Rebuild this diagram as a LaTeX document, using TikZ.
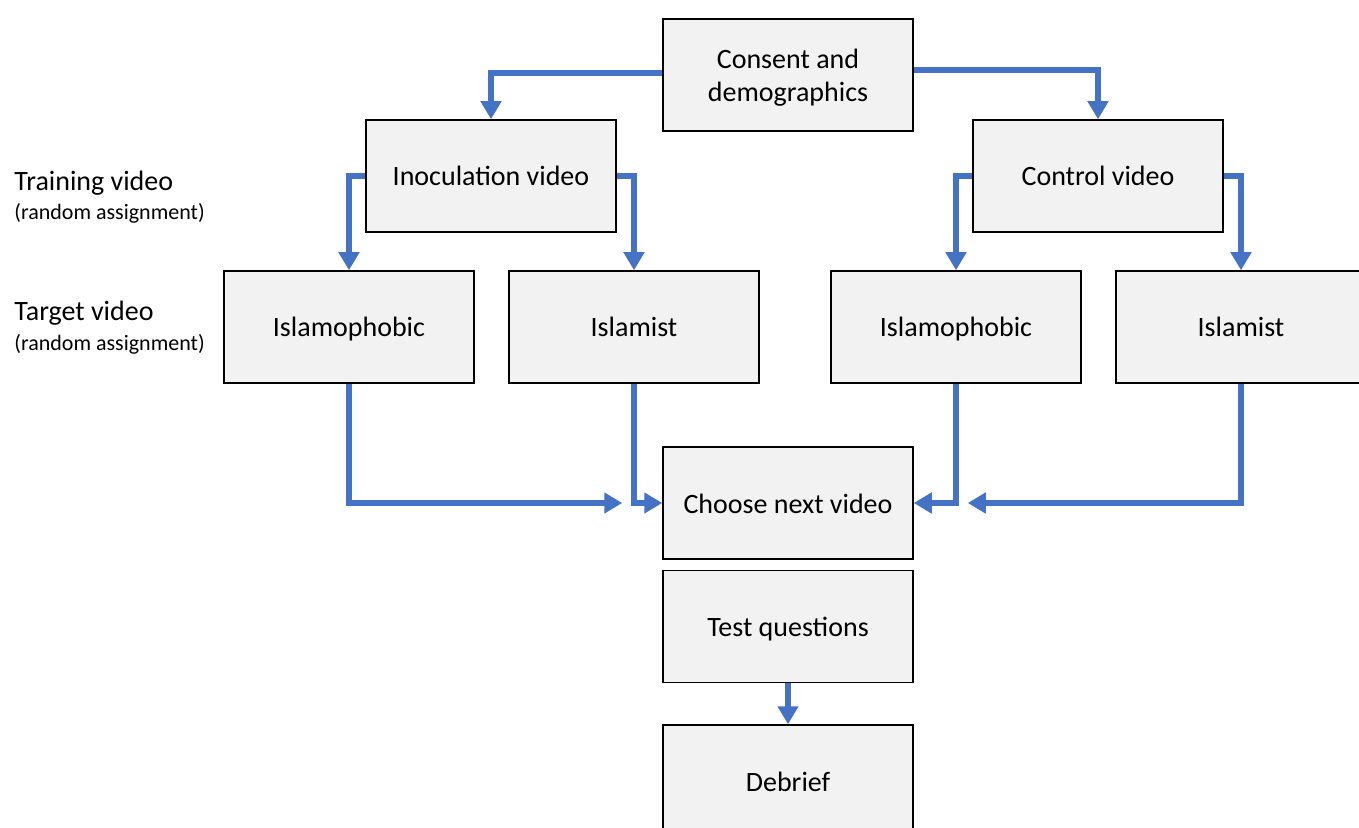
\documentclass[tikz,border=0pt]{standalone}
\usepackage{fontspec}
\setmainfont{Carlito}
\usepackage{tikz}
\usetikzlibrary{arrows.meta,positioning,calc}
\usepackage{xcolor}
\definecolor{boxfill}{RGB}{242,242,242}
\definecolor{flowblue}{RGB}{68,114,196}

\begin{document}
\begin{tikzpicture}[x=0.5pt,y=-0.5pt,
  every node/.style={font=\fontsize{14}{16.5}\selectfont},
  box/.style={draw=black,fill=boxfill,line width=0.75pt,minimum width=125pt,
    minimum height=56pt,align=center,inner sep=0pt,text height=12pt,text depth=2pt},
  lbl/.style={anchor=west,inner sep=0pt},
  sublbl/.style={anchor=west,inner sep=0pt,font=\fontsize{11}{13}\selectfont},
  flow/.style={flowblue,line width=2.6pt,-{Triangle[width=10pt,length=9pt]}}]
\useasboundingbox (0,0) rectangle (1359,828);
% side labels
\node[lbl] (trainlbl) at (14,183) {Training video};
\node[sublbl] (trainsub) at (14,213) {(random assignment)};
\node[lbl] (targetlbl) at (14,313) {Target video};
\node[sublbl] (targetsub) at (14,344) {(random assignment)};
% boxes
\node[box,text height=,text depth=0pt] (consent) at (788,75) {Consent and\\demographics};
\node[box] (inoc) at (491,176) {Inoculation video};
\node[box] (ctrl) at (1098,176) {Control video};
\node[box] (phobL) at (349,327) {Islamophobic};
\node[box] (istL) at (634,327) {Islamist};
\node[box] (phobR) at (956,327) {Islamophobic};
\node[box] (istR) at (1241,327) {Islamist};
\node[box] (choose) at (788,503) {Choose next video};
\node[box,below=5pt of choose] (test) {Test questions};
\node[box,below=20.5pt of test] (debrief) {Debrief};
\coordinate (inL) at ($(choose.west)+(-40,0)$);
\coordinate (inR) at ($(choose.east)+(54,0)$);
% connectors
\draw[flow] ([yshift=1pt]consent.west) -| (inoc.north);
\draw[flow] ([yshift=2.5pt]consent.east) -| (ctrl.north);
\draw[flow] (inoc.west) -| (phobL.north);
\draw[flow] (inoc.east) -| (istL.north);
\draw[flow] (ctrl.west) -| (phobR.north);
\draw[flow] (ctrl.east) -| (istR.north);
\draw[flow] (phobL.south) |- (inL);
\draw[flow] (istL.south) |- (choose.west);
\draw[flow] (phobR.south) |- (choose.east);
\draw[flow] (istR.south) |- (inR);
\draw[flow] (test.south) -- (debrief.north);
\end{tikzpicture}
\end{document}
